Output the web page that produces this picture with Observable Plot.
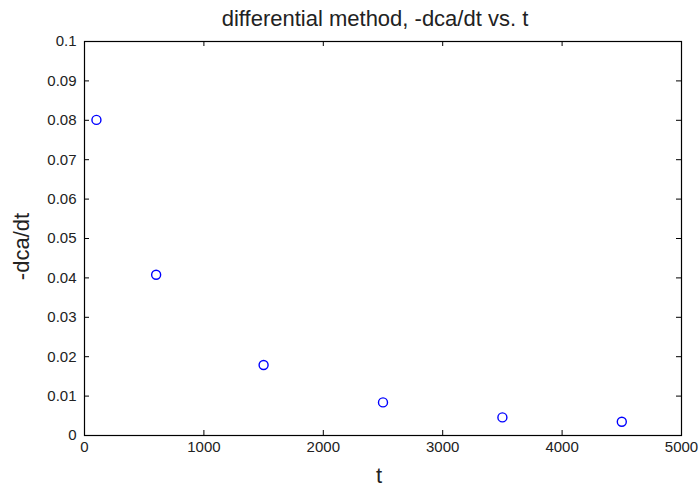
<!DOCTYPE html>
<html>
<head>
<meta charset="utf-8">
<script src="https://cdn.jsdelivr.net/npm/d3@7"></script>
<script src="https://cdn.jsdelivr.net/npm/@observablehq/plot@0.6"></script>
<style>
  html, body { margin: 0; padding: 0; background: #fff; }
</style>
</head>
<body>
<div id="chart"></div>
<script>
const tValues = [100, 600, 1500, 2500, 3500, 4500];
const rateValues = [0.0801, 0.0408, 0.0179, 0.0084, 0.0046, 0.0035];
const xTicks = [0, 1000, 2000, 3000, 4000, 5000];
const yTicks = [0, 0.01, 0.02, 0.03, 0.04, 0.05, 0.06, 0.07, 0.08, 0.09, 0.1];
const titleText = "differential method, -dca/dt vs. t";
const xLabel = "t";
const yLabel = "-dca/dt";

const data = tValues.map((t, i) => ({t, r: rateValues[i]}));

const W = 700, H = 487, mL = 84, mR = 19, mT = 41, mB = 52;
const fw = W - mL - mR, fh = H - mT - mB;
const tk = 5;
const font = "'Liberation Sans', Arial, sans-serif";

const chart = Plot.plot({
  width: W, height: H,
  marginLeft: mL, marginRight: mR, marginTop: mT, marginBottom: mB,
  style: {fontFamily: font, background: "#fff", color: "#000"},
  x: {domain: [0, 5000]},
  y: {domain: [0, 0.1]},
  marks: [
    Plot.frame({stroke: "#000", strokeWidth: 1.2}),
    Plot.ruleX(xTicks, {x: d => d, insetTop: fh - tk, stroke: "#000"}),
    Plot.ruleX(xTicks, {x: d => d, insetBottom: fh - tk, stroke: "#000"}),
    Plot.ruleY(yTicks, {y: d => d, insetRight: fw - tk, stroke: "#000"}),
    Plot.ruleY(yTicks, {y: d => d, insetLeft: fw - tk, stroke: "#000"}),
    Plot.axisX(xTicks, {anchor: "bottom", tickSize: 0, tickPadding: 6, fontSize: 15, tickFormat: d => String(d), label: null, fill: "#222"}),
    Plot.axisY(yTicks, {anchor: "left", tickSize: 0, tickPadding: 8, fontSize: 15, tickFormat: d => String(+d.toFixed(2)), label: null, fill: "#222"}),
    Plot.dot(data, {x: "t", y: "r", r: 4.5, stroke: "#0000ff", strokeWidth: 1.4, fill: "none"}),
    Plot.text([titleText], {text: d => d, frameAnchor: "top", dy: -23, dx: -8, lineAnchor: "middle", fontSize: 22, fill: "#222"}),
    Plot.text([xLabel], {text: d => d, frameAnchor: "bottom", dy: 40, dx: -4, lineAnchor: "middle", fontSize: 22, fill: "#222"}),
    Plot.text([yLabel], {text: d => d, frameAnchor: "left", textAnchor: "middle", dx: -63, dy: 8, rotate: -90, lineAnchor: "middle", fontSize: 22, fill: "#222"})
  ]
});
document.getElementById("chart").appendChild(chart);
</script>
</body>
</html>
